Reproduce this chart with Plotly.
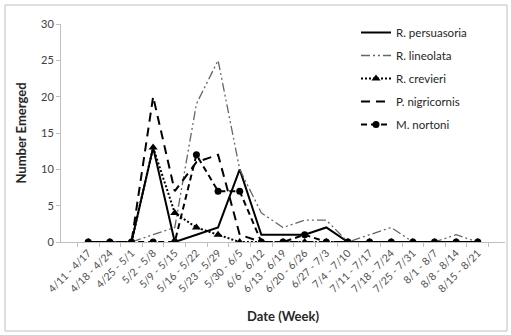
import plotly.graph_objects as go

weeks = ["4/11 - 4/17", "4/18 - 4/24", "4/25 - 5/1", "5/2 - 5/8", "5/9 - 5/15",
         "5/16 - 5/22", "5/23 - 5/29", "5/30 - 6/5", "6/6 - 6/12", "6/13 - 6/19",
         "6/20 - 6/26", "6/27 - 7/3", "7/4 - 7/10", "7/11 - 7/17", "7/18 - 7/24",
         "7/25 - 7/31", "8/1 - 8/7", "8/8 - 8/14", "8/15 - 8/21"]

persuasoria = [0, 0, 0, 13, 0, 1, 2, 10, 1, 1, 1, 2, 0, 0, 0, 0, 0, 0, 0]
lineolata   = [0, 0, 0, 1, 2, 19, 25, 10, 4, 2, 3, 3, 0, 1, 2, 0, 0, 1, 0]
crevieri    = [0, 0, 0, 13, 4, 2, 1, 0, 0, 0, 0, 0, 0, 0, 0, 0, 0, 0, 0]
nigricornis = [0, 0, 0, 20, 7, 11, 12, 1, 0, 0, 0, 0, 0, 0, 0, 0, 0, 0, 0]
nortoni     = [0, 0, 0, 0, 0, 12, 7, 7, 0, 0, 1, 0, 0, 0, 0, 0, 0, 0, 0]

y_ticks = [0, 5, 10, 15, 20, 25, 30]

FONT = "Lato, 'Noto Sans', sans-serif"

fig = go.Figure()
fig.add_trace(go.Scatter(x=weeks, y=persuasoria, name="R. persuasoria", mode="lines",
                         legendgroup="a",
                         line=dict(color="black", width=2)))
fig.add_trace(go.Scatter(x=weeks, y=lineolata, name="R. lineolata", mode="lines",
                         legendgroup="b",
                         line=dict(color="#666666", width=1.3, dash="9px,3px,2px,3px,2px,3px")))
fig.add_trace(go.Scatter(x=weeks, y=crevieri, name="R. crevieri", mode="lines+markers",
                         legendgroup="c",
                         line=dict(color="black", width=2, dash="2px,2px"),
                         marker=dict(symbol="triangle-up", size=8, color="black")))
fig.add_trace(go.Scatter(x=weeks, y=nigricornis, name="P. nigricornis", mode="lines",
                         legendgroup="d",
                         line=dict(color="black", width=2, dash="9px,6px")))
fig.add_trace(go.Scatter(x=weeks, y=nortoni, name="M. nortoni", mode="lines+markers",
                         legendgroup="e",
                         line=dict(color="black", width=2, dash="6px,4px"),
                         marker=dict(symbol="circle", size=7, color="black")))

# pixel -> paper coordinates (plot area spans x 61..505, y 24..242 on screen)
def px_x(p):
    return (p - 61) / 444.0

def px_y(p):
    return (242 - p) / 218.0

fig.add_shape(type="rect", xref="paper", yref="paper",
              x0=px_x(5), x1=px_x(507), y0=px_y(331), y1=px_y(5),
              line=dict(color="#bfbfbf", width=1), fillcolor="rgba(0,0,0,0)", layer="below")

fig.update_layout(
    width=511, height=335,
    margin=dict(l=61, r=6, t=24, b=93),
    paper_bgcolor="white", plot_bgcolor="white",
    font=dict(family=FONT, color="#404040"),
    showlegend=True,
    legend=dict(x=px_x(356), y=px_y(18), xanchor="left", yanchor="top",
                font=dict(size=11.5, color="#262626"), tracegroupgap=4,
                bgcolor="rgba(0,0,0,0)", itemwidth=30),
    xaxis=dict(
        type="category", tickangle=-45, tickson="boundaries",
        ticks="outside", ticklen=4, tickcolor="#bfbfbf",
        showline=True, linecolor="#bfbfbf", linewidth=1,
        showgrid=False, zeroline=False,
        tickfont=dict(size=10.5, color="#505050"),
        title=dict(text="<b>Date (Week)</b>", font=dict(size=13, color="#262626"), standoff=18),
    ),
    yaxis=dict(
        range=[0, 30], tickvals=y_ticks,
        ticks="outside", ticklen=4, tickcolor="#bfbfbf",
        showline=True, linecolor="#bfbfbf", linewidth=1,
        showgrid=False, zeroline=False,
        tickfont=dict(size=11, color="#404040"),
        title=dict(text="<b>Number Emerged</b>", font=dict(size=13, color="#262626"), standoff=11),
    ),
)

fig.write_html("out.html", config={"displayModeBar": False},
               post_script="document.body.style.margin='0';")
